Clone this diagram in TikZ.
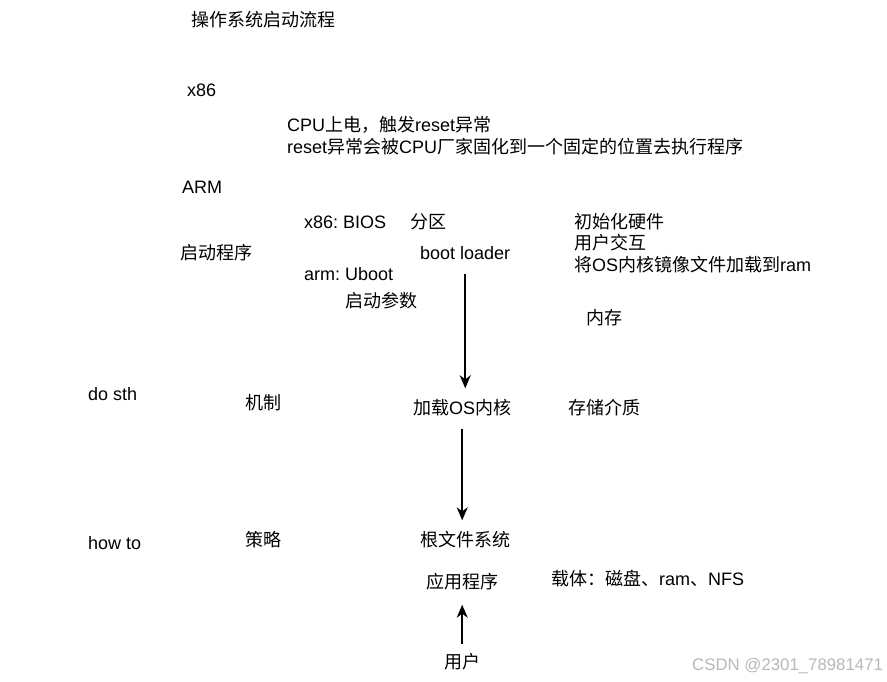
\documentclass[tikz,border=0pt]{standalone}
\usepackage{fontspec}
\setmainfont{Liberation Sans}
\newfontfamily\cjk{Noto Sans CJK SC}
\usetikzlibrary{arrows.meta}
\frenchspacing
\tikzset{
  note/.style={anchor=west, inner sep=0pt, text height=14pt, text depth=4pt,
               yshift=-1.5pt, font=\fontsize{18}{21}\selectfont},
  flow/.style={draw, line width=1.5pt,
               -{Stealth[length=13pt, width=11pt, inset=4pt]},
               shorten <=10pt, shorten >=12pt},
  wmtext/.style={anchor=west, inner sep=0pt, text=black!28,
                 font=\fontsize{16.8}{19}\selectfont}
}
\newcommand{\zh}[1]{{\cjk #1}}

\begin{document}
\begin{tikzpicture}[x=1pt, y=-1pt]
  \useasboundingbox (0,0) rectangle (887,681);
  % title and the two platforms
  \node[note] (title) at (191, 20) {\zh{操作系统启动流程}};
  \node[note] (xarch) at (187, 90) {x86};
  \node[note] (arm)   at (182, 187) {ARM};
  \node[note] (reset1) at (287, 125) {CPU\zh{上电，触发}reset\zh{异常}};
  \node[note] (reset2) at (287, 147) {reset\zh{异常会被}CPU\zh{厂家固化到一个固定的位置去执行程序}};
  % boot loader row
  \node[note] (start) at (180, 253) {\zh{启动程序}};
  \node[note] (bios)  at (304, 222) {x86: BIOS};
  \node[note] (part)  at (410, 222) {\zh{分区}};
  \node[note] (uboot) at (304, 274) {arm: Uboot};
  \node[note] (args)  at (345, 301) {\zh{启动参数}};
  \node[note] (boot)  at (420, 253) {boot loader};
  \node[note] (init)  at (574, 222) {\zh{初始化硬件}};
  \node[note] (talk)  at (574, 243) {\zh{用户交互}};
  \node[note] (load)  at (574, 265) {\zh{将}OS\zh{内核镜像文件加载到}ram};
  \node[note] (mem)   at (586, 318) {\zh{内存}};
  % kernel row
  \node[note] (dosth)  at (88, 394) {do sth};
  \node[note] (mech)   at (245, 403) {\zh{机制}};
  \node[note] (kernel) at (413, 408) {\zh{加载}OS\zh{内核}};
  \node[note] (store)  at (568, 408) {\zh{存储介质}};
  % root file system row
  \node[note] (howto)  at (88, 543) {how to};
  \node[note] (policy) at (245, 540) {\zh{策略}};
  \node[note] (rootfs) at (420, 540) {\zh{根文件系统}};
  \node[note] (app)    at (426, 582) {\zh{应用程序}};
  \node[note] (media)  at (551, 579) {\zh{载体：磁盘、}ram\zh{、}NFS};
  \node[note] (user)   at (444, 662) {\zh{用户}};
  \draw[flow] (boot.south) -- (boot.south |- kernel.north);
  \draw[flow] (kernel.south) -- (kernel.south |- rootfs.north);
  \draw[flow] (user.north) -- (user.north |- app.south);
  \node[wmtext] (wm) at (692, 666) {CSDN @2301\_78981471};
\end{tikzpicture}
\end{document}
